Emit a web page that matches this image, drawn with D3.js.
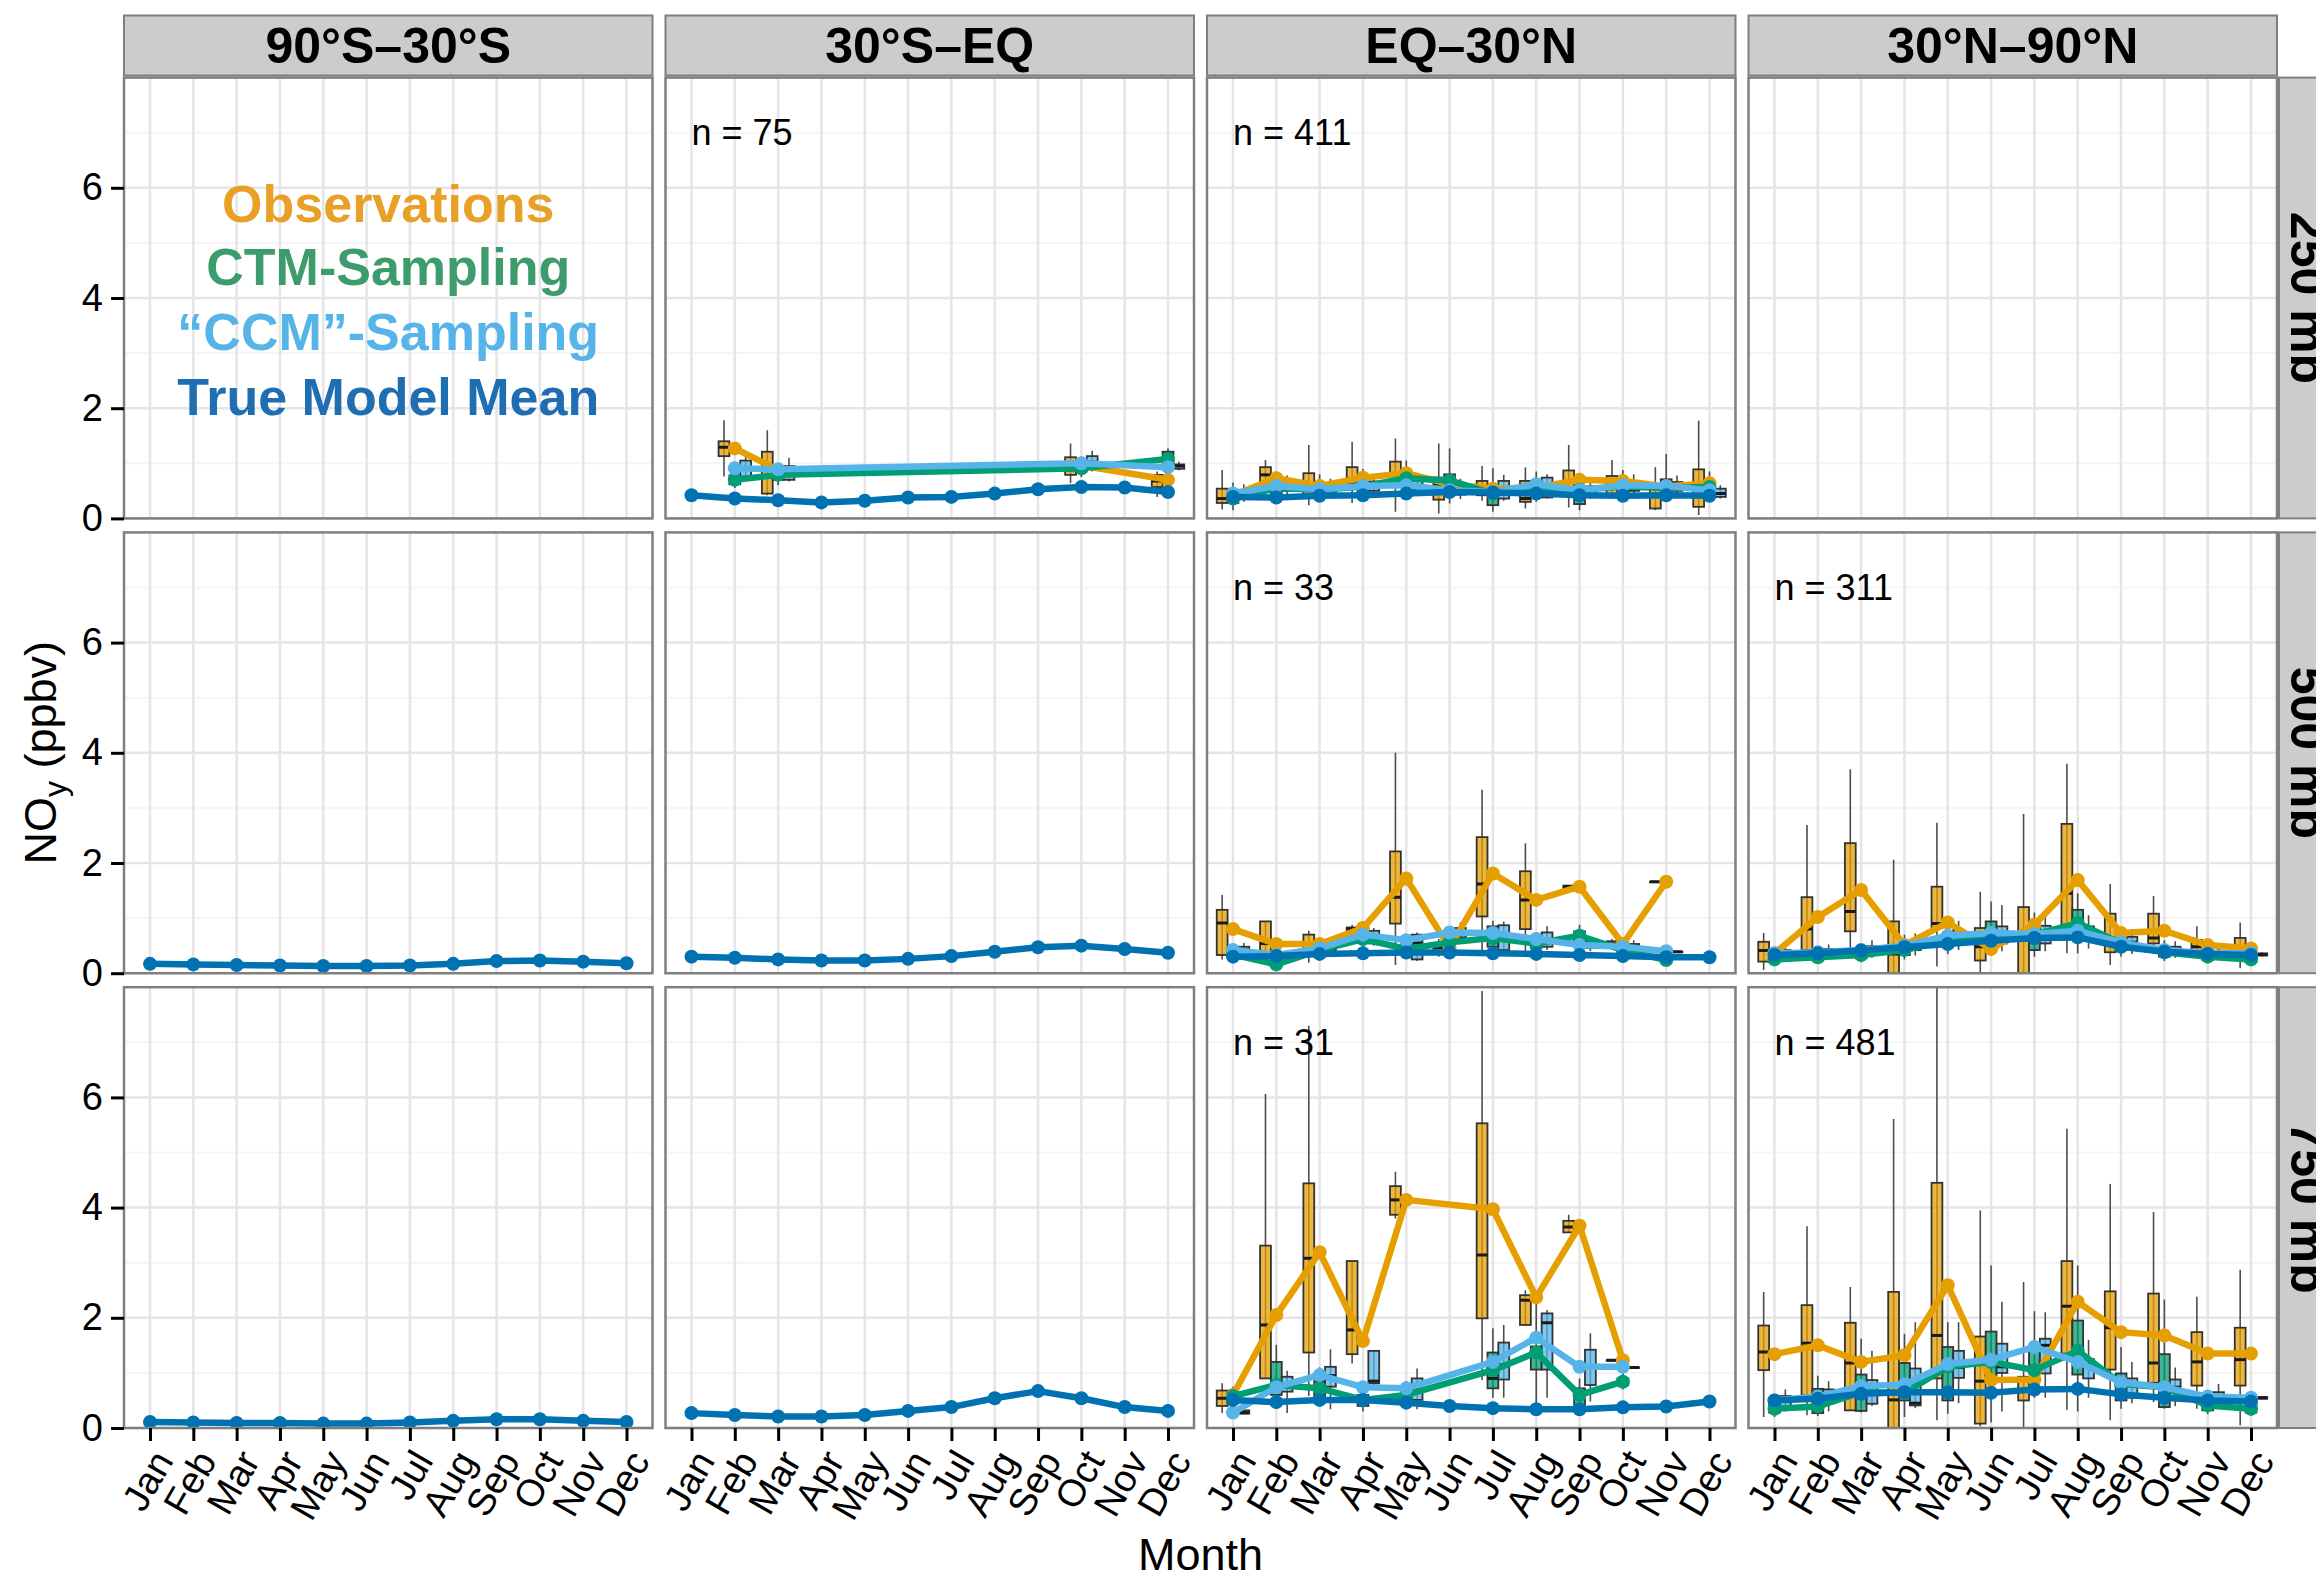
<!DOCTYPE html>
<html>
<head>
<meta charset="utf-8">
<script src="https://cdn.jsdelivr.net/npm/d3@7"></script>
<style>
html, body { margin: 0; padding: 0; background: #fff; }
svg { display: block; font-family: "Liberation Sans", Arial, Helvetica, sans-serif; }
</style>
</head>
<body>
<div id="chart"></div>
<script>
// categories
const months = ["Jan","Feb","Mar","Apr","May","Jun","Jul","Aug","Sep","Oct","Nov","Dec"];
const regions = ["90°S–30°S","30°S–EQ","EQ–30°N","30°N–90°N"];
const levels = ["250 mb","500 mb","750 mb"];
const yTicks = [0, 2, 4, 6];
const legendLabels = ["Observations","CTM-Sampling","“CCM”-Sampling","True Model Mean"];
const legendY = [5.7, 4.56, 3.38, 2.21];

// 250 mb, 30S-EQ  (n = 75)
const trueMean_250_SEQ = [0.42,0.36,0.33,0.29,0.32,0.38,0.39,0.45,0.53,0.57,0.56,0.48];
const obsMean_250_SEQ = [null,1.27,0.88,null,null,null,null,null,null,0.96,null,0.70];
const ctmMean_250_SEQ = [null,0.70,0.79,null,null,null,null,null,null,0.91,null,1.08];
const ccmMean_250_SEQ = [null,0.91,0.89,null,null,null,null,null,null,1.00,null,0.93];
const obsBox_250_SEQ = [["Feb",0.76,1.13,1.29,1.40,1.78],["Mar",0.42,0.45,0.75,1.21,1.60],["Oct",0.64,0.79,0.88,1.11,1.36],["Dec",0.39,0.57,0.68,0.79,0.85]];
const ctmBox_250_SEQ = [["Feb",0.55,0.62,0.70,0.78,0.90],["Mar",0.60,0.70,0.78,0.88,1.00],["Oct",0.75,0.85,0.92,1.00,1.12],["Dec",0.90,0.91,1.05,1.21,1.27]];
const ccmBox_250_SEQ = [["Feb",0.70,0.76,0.90,1.05,1.12],["Mar",0.67,0.70,0.88,0.95,1.10],["Oct",0.85,0.93,1.02,1.13,1.23],["Dec",0.87,0.90,0.95,0.98,1.03]];

// 250 mb, EQ-30N  (n = 411)
const trueMean_250_NEQ = [0.39,0.38,0.41,0.42,0.45,0.48,0.47,0.45,0.42,0.41,0.42,0.41];
const obsMean_250_NEQ = [0.42,0.73,0.59,0.74,0.82,0.62,0.54,0.56,0.70,0.68,0.58,0.64];
const ctmMean_250_NEQ = [0.36,0.55,0.52,0.58,0.73,0.69,0.45,0.55,0.52,0.58,0.55,0.57];
const ccmMean_250_NEQ = [0.45,0.59,0.53,0.59,0.60,0.51,0.48,0.62,0.51,0.60,0.59,0.51];
const obsBox_250_NEQ = [["Jan",0.16,0.28,0.36,0.54,0.88],["Feb",0.57,0.64,0.79,0.93,1.06],["Mar",0.24,0.42,0.60,0.82,1.33],["Apr",0.28,0.64,0.72,0.93,1.39],["May",0.12,0.57,0.80,1.03,1.45],["Jun",0.09,0.34,0.62,0.74,1.36],["Jul",0.32,0.42,0.55,0.68,0.95],["Aug",0.18,0.30,0.36,0.68,0.93],["Sep",0.20,0.48,0.65,0.87,1.33],["Oct",0.38,0.45,0.60,0.77,1.06],["Nov",0.15,0.18,0.40,0.54,0.93],["Dec",0.06,0.21,0.60,0.89,1.77]];
const ctmBox_250_NEQ = [["Jan",0.15,0.28,0.35,0.45,0.65],["Feb",0.35,0.45,0.55,0.66,0.85],["Mar",0.30,0.42,0.52,0.62,0.80],["Apr",0.35,0.48,0.58,0.68,0.90],["May",0.40,0.60,0.72,0.82,1.05],["Jun",0.27,0.45,0.65,0.80,1.27],["Jul",0.12,0.24,0.42,0.59,0.91],["Aug",0.30,0.42,0.55,0.66,0.85],["Sep",0.15,0.26,0.40,0.48,0.80],["Oct",0.35,0.48,0.58,0.68,0.88],["Nov",0.33,0.45,0.55,0.71,1.17],["Dec",0.35,0.47,0.57,0.66,0.85]];
const ccmBox_250_NEQ = [["Jan",0.30,0.38,0.45,0.52,0.62],["Feb",0.42,0.50,0.58,0.66,0.78],["Mar",0.38,0.45,0.53,0.60,0.72],["Apr",0.42,0.50,0.58,0.67,0.80],["May",0.42,0.52,0.60,0.68,0.82],["Jun",0.35,0.43,0.51,0.60,0.72],["Jul",0.32,0.36,0.48,0.68,0.79],["Aug",0.36,0.38,0.60,0.74,0.80],["Sep",0.35,0.43,0.51,0.58,0.70],["Oct",0.42,0.50,0.60,0.68,0.80],["Nov",0.40,0.50,0.58,0.66,0.78],["Dec",0.36,0.39,0.45,0.54,0.60]];

// 500 mb, 90S-30S and 30S-EQ (model only)
const trueMean_500_SH = [0.17,0.16,0.15,0.14,0.13,0.13,0.14,0.17,0.22,0.23,0.21,0.18];
const trueMean_500_SEQ = [0.30,0.28,0.25,0.23,0.23,0.26,0.31,0.39,0.47,0.50,0.44,0.37];

// 500 mb, EQ-30N  (n = 33)
const trueMean_500_NEQ = [0.30,0.31,0.35,0.36,0.375,0.375,0.36,0.35,0.33,0.31,0.29,0.29];
const obsMean_500_NEQ = [0.80,0.53,0.53,0.82,1.72,0.46,1.81,1.33,1.57,0.53,1.66,null];
const ctmMean_500_NEQ = [0.34,0.16,0.42,0.62,0.44,0.56,0.64,0.54,0.68,0.42,0.24,null];
const ccmMean_500_NEQ = [0.42,0.33,0.45,0.70,0.60,0.74,0.73,0.62,0.51,0.48,0.40,null];
const obsBox_500_NEQ = [["Jan",0.25,0.33,0.91,1.15,1.42],["Feb",0.30,0.36,0.54,0.94,0.94],["Mar",0.19,0.36,0.42,0.70,0.77],["Apr",0.60,0.60,0.80,0.83,0.88],["May",0.15,0.90,1.38,2.21,4.00],["Jun",0.30,0.38,0.46,0.55,0.62],["Jul",0.42,1.03,1.62,2.47,3.33],["Aug",0.36,0.80,1.33,1.85,2.36],["Sep",1.54,1.54,1.57,1.59,1.59],["Oct",0.45,0.48,0.53,0.58,0.62],["Nov",1.66,1.66,1.66,1.66,1.66]];
const ctmBox_500_NEQ = [["Jan",0.22,0.28,0.34,0.40,0.48],["Feb",0.10,0.13,0.16,0.20,0.26],["Mar",0.30,0.36,0.42,0.48,0.58],["Apr",0.45,0.55,0.62,0.70,0.82],["May",0.30,0.38,0.44,0.52,0.62],["Jun",0.40,0.50,0.56,0.64,0.75],["Jul",0.38,0.48,0.62,0.85,0.95],["Aug",0.38,0.46,0.54,0.62,0.75],["Sep",0.50,0.60,0.68,0.76,0.88],["Oct",0.30,0.36,0.42,0.48,0.58],["Nov",0.22,0.23,0.24,0.25,0.26]];
const ccmBox_500_NEQ = [["Jan",0.32,0.37,0.42,0.48,0.55],["Feb",0.25,0.29,0.33,0.37,0.42],["Mar",0.35,0.40,0.45,0.50,0.58],["Apr",0.50,0.54,0.68,0.77,0.82],["May",0.22,0.25,0.55,0.70,0.74],["Jun",0.55,0.65,0.74,0.82,0.92],["Jul",0.35,0.42,0.72,0.87,0.94],["Aug",0.42,0.48,0.60,0.74,0.85],["Sep",0.40,0.46,0.51,0.57,0.65],["Oct",0.38,0.43,0.48,0.53,0.60],["Nov",0.38,0.38,0.39,0.39,0.40]];

// 500 mb, 30N-90N  (n = 311)
const trueMean_500_NH = [0.33,0.36,0.41,0.47,0.53,0.59,0.64,0.65,0.48,0.39,0.35,0.33];
const obsMean_500_NH = [0.36,1.02,1.51,0.51,0.92,0.44,0.88,1.69,0.73,0.77,0.51,0.45];
const ctmMean_500_NH = [0.25,0.29,0.33,0.42,0.60,0.67,0.70,0.91,0.54,0.38,0.30,0.25];
const ccmMean_500_NH = [0.36,0.38,0.42,0.50,0.68,0.73,0.71,0.77,0.56,0.42,0.36,0.36];
const obsBox_500_NH = [["Jan",0.06,0.21,0.41,0.57,0.73],["Feb",0.38,0.42,0.80,1.38,2.69],["Mar",0.42,0.76,1.12,2.36,3.70],["Apr",-0.3,-0.2,0.35,0.94,2.06],["May",0.12,0.82,0.90,1.57,2.73],["Jun",0.0,0.23,0.48,0.82,1.48],["Jul",-0.3,-0.2,0.60,1.20,2.89],["Aug",0.36,0.86,1.45,2.71,3.80],["Sep",0.15,0.38,0.60,1.08,1.62],["Oct",0.36,0.54,0.64,1.08,1.40],["Nov",0.30,0.40,0.48,0.60,0.85],["Dec",0.09,0.24,0.40,0.64,0.92]];
const ctmBox_500_NH = [["Jan",0.15,0.20,0.25,0.30,0.38],["Feb",0.18,0.23,0.29,0.35,0.45],["Mar",0.20,0.27,0.33,0.40,0.52],["Apr",0.25,0.33,0.42,0.52,0.70],["May",0.35,0.48,0.60,0.72,0.95],["Jun",0.35,0.67,0.75,0.94,1.30],["Jul",0.30,0.42,0.65,0.85,1.10],["Aug",0.36,0.73,0.95,1.15,1.45],["Sep",0.30,0.42,0.54,0.66,0.85],["Oct",0.22,0.30,0.38,0.46,0.60],["Nov",0.18,0.24,0.30,0.36,0.46],["Dec",0.14,0.20,0.25,0.30,0.38]];
const ccmBox_500_NH = [["Jan",0.25,0.30,0.36,0.42,0.50],["Feb",0.26,0.32,0.38,0.44,0.52],["Mar",0.28,0.35,0.42,0.49,0.60],["Apr",0.32,0.42,0.50,0.58,0.72],["May",0.42,0.55,0.68,0.78,0.95],["Jun",0.40,0.54,0.72,0.85,1.24],["Jul",0.40,0.54,0.70,0.86,1.10],["Aug",0.45,0.60,0.75,0.85,1.05],["Sep",0.35,0.46,0.56,0.66,0.80],["Oct",0.28,0.36,0.42,0.48,0.58],["Nov",0.25,0.31,0.36,0.41,0.48],["Dec",0.30,0.32,0.34,0.36,0.38]];

// 750 mb, 90S-30S and 30S-EQ (model only)
const trueMean_750_SH = [0.11,0.10,0.09,0.09,0.08,0.08,0.10,0.13,0.16,0.16,0.13,0.11];
const trueMean_750_SEQ = [0.27,0.235,0.21,0.21,0.235,0.31,0.38,0.54,0.67,0.54,0.38,0.31];

// 750 mb, EQ-30N  (n = 31)
const trueMean_750_NEQ = [0.51,0.47,0.51,0.51,0.46,0.40,0.36,0.34,0.34,0.375,0.39,0.48];
const obsMean_750_NEQ = [0.60,2.05,3.19,1.58,4.14,null,3.97,2.37,3.67,1.23,null,null];
const ctmMean_750_NEQ = [0.58,0.78,0.72,0.51,0.60,null,1.05,1.37,0.60,0.84,null,null];
const ccmMean_750_NEQ = [0.28,0.74,0.96,0.74,0.72,null,1.20,1.64,1.11,1.11,null,null];
const obsBox_750_NEQ = [["Jan",0.27,0.40,0.54,0.68,0.81],["Feb",0.90,0.90,1.87,3.31,6.06],["Mar",0.58,1.37,3.08,4.44,7.30],["Apr",1.17,1.34,1.78,3.03,3.03],["May",3.80,3.87,4.14,4.39,4.65],["Jul",0.87,1.99,3.14,5.53,7.93],["Aug",1.87,1.87,2.32,2.41,2.50],["Sep",3.55,3.55,3.65,3.76,3.87],["Oct",1.23,1.23,1.23,1.23,1.23]];
const ctmBox_750_NEQ = [["Jan",0.35,0.45,0.55,0.65,0.75],["Feb",0.35,0.60,0.70,1.20,1.51],["Mar",0.40,0.55,0.70,0.85,1.10],["Apr",0.30,0.40,0.50,0.60,0.75],["May",0.35,0.48,0.58,0.70,0.85],["Jul",0.55,0.72,0.90,1.37,1.81],["Aug",0.27,1.06,1.30,1.48,2.38],["Sep",0.30,0.42,0.55,0.72,0.90],["Oct",0.70,0.78,0.84,0.90,1.00]];
const ccmBox_750_NEQ = [["Jan",0.25,0.26,0.28,0.32,0.34],["Feb",0.27,0.66,0.75,0.93,1.04],["Mar",0.34,0.75,0.95,1.11,1.43],["Apr",0.70,0.81,0.85,1.40,1.40],["May",0.34,0.51,0.70,0.90,1.08],["Jul",0.55,0.88,1.15,1.55,1.87],["Aug",0.55,1.06,1.91,2.08,2.14],["Sep",0.48,0.78,1.10,1.42,1.72],["Oct",1.10,1.10,1.10,1.10,1.10]];

// 750 mb, 30N-90N  (n = 481)
const trueMean_750_NH = [0.50,0.53,0.62,0.65,0.65,0.64,0.70,0.71,0.61,0.55,0.50,0.48];
const obsMean_750_NH = [1.34,1.50,1.20,1.32,2.59,0.87,0.88,2.29,1.74,1.68,1.35,1.35];
const ctmMean_750_NH = [0.35,0.39,0.65,0.64,1.11,1.20,1.05,1.40,0.80,0.74,0.41,0.35];
const ccmMean_750_NH = [0.50,0.57,0.76,0.79,1.16,1.24,1.47,1.20,0.83,0.74,0.57,0.55];
const obsBox_750_NH = [["Jan",0.20,1.05,1.38,1.86,2.47],["Feb",0.23,0.59,1.54,2.23,3.66],["Mar",0.32,0.32,1.18,1.91,2.56],["Apr",-0.3,-0.2,0.51,2.47,5.61],["May",0.14,0.90,1.68,4.45,8.0],["Jun",0.03,0.08,0.85,1.66,3.95],["Jul",0.0,0.50,0.90,0.93,2.65],["Aug",0.33,1.35,2.21,3.03,5.43],["Sep",0.14,1.06,1.82,2.48,4.43],["Oct",0.47,0.82,1.18,2.44,3.92],["Nov",0.35,0.77,1.20,1.74,2.38],["Dec",0.05,0.77,1.24,1.82,2.87]];
const ctmBox_750_NH = [["Jan",0.20,0.28,0.35,0.45,0.60],["Feb",0.22,0.27,0.40,0.71,0.95],["Mar",0.28,0.31,0.62,0.97,1.62],["Apr",0.20,0.50,0.62,1.18,1.71],["May",0.26,0.50,1.05,1.47,1.92],["Jun",0.10,0.96,1.22,1.75,2.95],["Jul",0.55,0.99,1.05,1.41,2.12],["Aug",0.30,0.97,1.30,1.95,2.95],["Sep",0.35,0.50,0.80,0.99,1.47],["Oct",0.35,0.38,0.75,1.34,2.33],["Nov",0.25,0.32,0.41,0.50,0.65],["Dec",0.22,0.28,0.35,0.42,0.55]];
const ccmBox_750_NH = [["Jan",0.30,0.40,0.50,0.58,0.70],["Feb",0.30,0.45,0.57,0.70,0.85],["Mar",0.40,0.44,0.75,0.87,1.40],["Apr",0.36,0.41,0.45,1.08,1.92],["May",0.45,0.91,1.10,1.40,1.92],["Jun",0.30,1.00,1.11,1.53,2.29],["Jul",0.55,0.99,1.50,1.62,2.10],["Aug",0.55,0.90,1.15,1.25,1.60],["Sep",0.45,0.55,0.80,0.90,1.20],["Oct",0.40,0.56,0.74,0.88,1.10],["Nov",0.35,0.45,0.57,0.65,0.80],["Dec",0.52,0.53,0.55,0.56,0.58]];

// panel table built from the arrays above
const panels = [
  { row: 0, col: 1, n: 75,  truth: trueMean_250_SEQ, obs: obsMean_250_SEQ, ctm: ctmMean_250_SEQ, ccm: ccmMean_250_SEQ, obsBox: obsBox_250_SEQ, ctmBox: ctmBox_250_SEQ, ccmBox: ccmBox_250_SEQ },
  { row: 0, col: 2, n: 411, truth: trueMean_250_NEQ, obs: obsMean_250_NEQ, ctm: ctmMean_250_NEQ, ccm: ccmMean_250_NEQ, obsBox: obsBox_250_NEQ, ctmBox: ctmBox_250_NEQ, ccmBox: ccmBox_250_NEQ },
  { row: 1, col: 0, truth: trueMean_500_SH },
  { row: 1, col: 1, truth: trueMean_500_SEQ },
  { row: 1, col: 2, n: 33,  truth: trueMean_500_NEQ, obs: obsMean_500_NEQ, ctm: ctmMean_500_NEQ, ccm: ccmMean_500_NEQ, obsBox: obsBox_500_NEQ, ctmBox: ctmBox_500_NEQ, ccmBox: ccmBox_500_NEQ },
  { row: 1, col: 3, n: 311, truth: trueMean_500_NH, obs: obsMean_500_NH, ctm: ctmMean_500_NH, ccm: ccmMean_500_NH, obsBox: obsBox_500_NH, ctmBox: ctmBox_500_NH, ccmBox: ccmBox_500_NH },
  { row: 2, col: 0, truth: trueMean_750_SH },
  { row: 2, col: 1, truth: trueMean_750_SEQ },
  { row: 2, col: 2, n: 31,  truth: trueMean_750_NEQ, obs: obsMean_750_NEQ, ctm: ctmMean_750_NEQ, ccm: ccmMean_750_NEQ, obsBox: obsBox_750_NEQ, ctmBox: ctmBox_750_NEQ, ccmBox: ccmBox_750_NEQ },
  { row: 2, col: 3, n: 481, truth: trueMean_750_NH, obs: obsMean_750_NH, ctm: ctmMean_750_NH, ccm: ccmMean_750_NH, obsBox: obsBox_750_NH, ctmBox: ctmBox_750_NH, ccmBox: ccmBox_750_NH }
];

const colObs = "#E69F00", colCtm = "#009E73", colCcm = "#56B4E9", colTrue = "#0072B2";
const legendColors = ["#E8A027", "#3C9C6C", "#56B4E9", "#1F6EB1"];

// layout
const width = 2316, height = 1576;
const plotL = 124, plotR = 2277, plotT = 77.6, plotB = 1428;
const gapX = 13, gapY = 14;
const pw = (plotR - plotL - 3 * gapX) / 4;
const ph = (plotB - plotT - 2 * gapY) / 3;
const panelX = c => plotL + c * (pw + gapX);
const panelY = r => plotT + r * (ph + gapY);

const x = d3.scalePoint().domain(months).range([0, pw]).padding(0.6);
const step = x.step();
const y = d3.scaleLinear().domain([0, 8]).range([ph, 0]);

const svg = d3.select("#chart").append("svg")
    .attr("width", width)
    .attr("height", height);
svg.append("rect").attr("width", width).attr("height", height).attr("fill", "#fff");

// column strips
regions.forEach((reg, c) => {
    svg.append("rect")
        .attr("x", panelX(c)).attr("y", 15.5)
        .attr("width", pw).attr("height", 60)
        .attr("fill", "#CCCCCC").attr("stroke", "#7F7F7F").attr("stroke-width", 2);
    svg.append("text")
        .attr("x", panelX(c) + pw / 2).attr("y", 45.5)
        .attr("text-anchor", "middle").attr("dominant-baseline", "central")
        .attr("font-size", 50).attr("font-weight", "bold")
        .text(reg);
});

// row strips (cut off by the right edge)
levels.forEach((lv, r) => {
    svg.append("rect")
        .attr("x", 2279).attr("y", panelY(r))
        .attr("width", 60).attr("height", ph)
        .attr("fill", "#CCCCCC").attr("stroke", "#7F7F7F").attr("stroke-width", 2);
    svg.append("text")
        .attr("transform", `translate(2308,${panelY(r) + ph / 2}) rotate(90)`)
        .attr("text-anchor", "middle").attr("dominant-baseline", "central")
        .attr("font-size", 50).attr("font-weight", "bold")
        .text(lv);
});

const line = d3.line()
    .x(d => x(d.m))
    .y(d => y(d.v));

function drawBoxes(g, boxes, color, offset) {
    const bw = step * 0.25;
    boxes.forEach(([m, lo, q1, med, q3, hi]) => {
        const cx = x(m) + offset * step;
        g.append("line")
            .attr("x1", cx).attr("x2", cx)
            .attr("y1", y(lo)).attr("y2", y(hi))
            .attr("stroke", "#4D4D4D").attr("stroke-width", 1.6);
        g.append("rect")
            .attr("x", cx - bw / 2).attr("width", bw)
            .attr("y", y(q3)).attr("height", Math.max(0.5, y(q1) - y(q3)))
            .attr("fill", color).attr("fill-opacity", 0.75)
            .attr("stroke", "#333").attr("stroke-width", 1.8);
        g.append("line")
            .attr("x1", cx - bw / 2).attr("x2", cx + bw / 2)
            .attr("y1", y(med)).attr("y2", y(med))
            .attr("stroke", "#1a1a1a").attr("stroke-width", 3);
    });
}

function drawSeries(g, values, color) {
    const pts = values.map((v, i) => ({ m: months[i], v })).filter(d => d.v != null);
    g.append("path")
        .attr("d", line(pts))
        .attr("fill", "none")
        .attr("stroke", color)
        .attr("stroke-width", 6.5)
        .attr("stroke-linejoin", "round");
    g.selectAll(null).data(pts).enter().append("circle")
        .attr("cx", d => x(d.m)).attr("cy", d => y(d.v))
        .attr("r", 7)
        .attr("fill", color);
}

for (let r = 0; r < 3; r++) {
    for (let c = 0; c < 4; c++) {
        const g = svg.append("g").attr("transform", `translate(${panelX(c)},${panelY(r)})`);
        g.append("rect").attr("width", pw).attr("height", ph).attr("fill", "#fff");

        // grid
        g.selectAll(null).data([1, 3, 5, 7]).enter().append("line")
            .attr("x1", 0).attr("x2", pw)
            .attr("y1", d => y(d)).attr("y2", d => y(d))
            .attr("stroke", "#F5F5F5").attr("stroke-width", 2);
        g.selectAll(null).data(yTicks).enter().append("line")
            .attr("x1", 0).attr("x2", pw)
            .attr("y1", d => y(d)).attr("y2", d => y(d))
            .attr("stroke", "#E5E5E5").attr("stroke-width", 2.5);
        g.selectAll(null).data(months).enter().append("line")
            .attr("x1", d => x(d)).attr("x2", d => x(d))
            .attr("y1", 0).attr("y2", ph)
            .attr("stroke", "#E5E5E5").attr("stroke-width", 2.5);

        const clipId = `clip-${r}-${c}`;
        g.append("clipPath").attr("id", clipId)
            .append("rect").attr("width", pw).attr("height", ph);
        const inner = g.append("g").attr("clip-path", `url(#${clipId})`);

        const p = panels.find(d => d.row === r && d.col === c);
        if (p) {
            if (p.obsBox) drawBoxes(inner, p.obsBox, colObs, -0.25);
            if (p.ctmBox) drawBoxes(inner, p.ctmBox, colCtm, 0);
            if (p.ccmBox) drawBoxes(inner, p.ccmBox, colCcm, 0.25);
            if (p.obs) drawSeries(inner, p.obs, colObs);
            if (p.ctm) drawSeries(inner, p.ctm, colCtm);
            if (p.ccm) drawSeries(inner, p.ccm, colCcm);
            drawSeries(inner, p.truth, colTrue);
            if (p.n) {
                g.append("text")
                    .attr("x", x("Jan")).attr("y", y(7))
                    .attr("dominant-baseline", "central")
                    .attr("font-size", 36)
                    .text(`n = ${p.n}`);
            }
        }

        if (r === 0 && c === 0) {
            legendLabels.forEach((lab, i) => {
                g.append("text")
                    .attr("x", pw / 2).attr("y", y(legendY[i]))
                    .attr("text-anchor", "middle").attr("dominant-baseline", "central")
                    .attr("font-size", 52).attr("font-weight", "bold")
                    .attr("fill", legendColors[i])
                    .text(lab);
            });
        }

        g.append("rect").attr("width", pw).attr("height", ph)
            .attr("fill", "none").attr("stroke", "#7F7F7F").attr("stroke-width", 2.5);

        // axes
        if (c === 0) {
            const ay = g.append("g").call(d3.axisLeft(y).tickValues(yTicks).tickSize(13).tickPadding(8));
            ay.select(".domain").remove();
            ay.selectAll("line").attr("stroke", "#000").attr("stroke-width", 3);
            ay.selectAll("text").attr("font-size", 38).attr("fill", "#000")
                .attr("font-family", "Liberation Sans, Arial, sans-serif");
        }
        if (r === 2) {
            const ax = g.append("g").attr("transform", `translate(0,${ph})`)
                .call(d3.axisBottom(x).tickSize(13));
            ax.select(".domain").remove();
            ax.selectAll("line").attr("stroke", "#000").attr("stroke-width", 3);
            ax.selectAll("text")
                .attr("x", 0).attr("y", 0).attr("dy", "0.72em")
                .attr("text-anchor", "end")
                .attr("transform", "translate(0,19) rotate(-60)")
                .attr("font-size", 38).attr("fill", "#000")
                .attr("font-family", "Liberation Sans, Arial, sans-serif");
        }
    }
}

// axis titles
svg.append("text")
    .attr("x", (plotL + plotR) / 2).attr("y", 1570)
    .attr("text-anchor", "middle")
    .attr("font-size", 45)
    .text("Month");

const yt = svg.append("text")
    .attr("transform", `translate(56,${(plotT + plotB) / 2}) rotate(-90)`)
    .attr("text-anchor", "middle")
    .attr("font-size", 45);
yt.append("tspan").text("NO");
yt.append("tspan").attr("dy", 10).attr("font-size", 32).text("y");
yt.append("tspan").attr("dy", -10).text(" (ppbv)");
</script>
</body>
</html>
